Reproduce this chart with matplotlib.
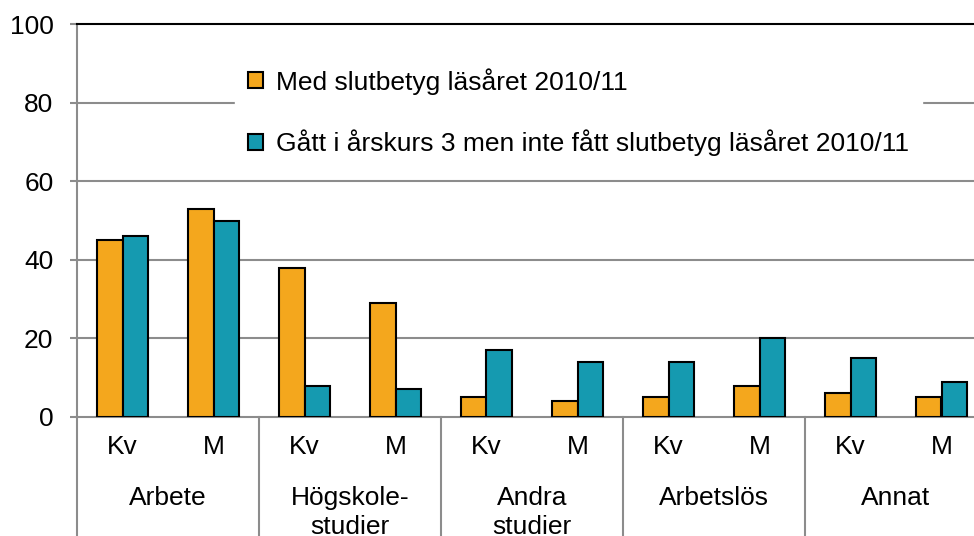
import matplotlib.pyplot as plt
from matplotlib.patches import Patch

plt.rcParams['font.family'] = ['Liberation Sans', 'DejaVu Sans']

groups = ['Arbete', 'Högskole-\nstudier', 'Andra\nstudier', 'Arbetslös', 'Annat']
sexes = ['Kv', 'M']
series_names = ['Med slutbetyg läsåret 2010/11',
                'Gått i årskurs 3 men inte fått slutbetyg läsåret 2010/11']
med_slutbetyg = [45, 53, 38, 29, 5, 4, 5, 8, 6, 5]
utan_slutbetyg = [46, 50, 8, 7, 17, 14, 14, 20, 15, 9]

orange = '#F4A71D'
teal = '#159AB0'
grid_col = '#8C8C8C'
fs = 19

fig = plt.figure(figsize=(9.74, 5.36), dpi=100)
ax = fig.add_axes([77 / 974, 119 / 536, 910 / 974, 393 / 536])

x = list(range(len(med_slutbetyg)))
w = 0.28
ax.bar([i - w / 2 for i in x], med_slutbetyg, w, color=orange,
       edgecolor='black', linewidth=1.5, zorder=3)
ax.bar([i + w / 2 for i in x], utan_slutbetyg, w, color=teal,
       edgecolor='black', linewidth=1.5, zorder=3)

ax.set_xlim(-0.5, len(x) - 0.5)
ax.set_ylim(0, 100)
ax.set_yticks(range(0, 101, 20))
ax.tick_params(axis='y', labelsize=fs, length=5, width=1.5, color=grid_col, pad=12)
ax.set_xticks([])
for v in range(20, 100, 20):
    ax.axhline(v, color=grid_col, lw=1.5, zorder=1)

ax.spines['right'].set_visible(False)
ax.spines['top'].set_color('black')
ax.spines['top'].set_linewidth(1.5)
ax.spines['bottom'].set_color(grid_col)
ax.spines['bottom'].set_linewidth(1.5)
ax.spines['left'].set_color(grid_col)
ax.spines['left'].set_linewidth(1.5)

# kategorier under axeln
tr = ax.get_xaxis_transform()
for i in x:
    ax.text(i, -0.076, sexes[i % 2], transform=tr, ha='center', va='center',
            fontsize=fs)
for g, name in enumerate(groups):
    ax.text(2 * g + 0.5, -0.176, name, transform=tr, ha='center', va='top',
            fontsize=fs, linespacing=1.25)
for g in range(len(groups) + 1):
    ax.plot([2 * g - 0.5, 2 * g - 0.5], [0, -0.35], transform=tr,
            color=grid_col, lw=1.5, clip_on=False)

handles = [Patch(facecolor=orange, edgecolor='black', linewidth=1.5),
           Patch(facecolor=teal, edgecolor='black', linewidth=1.5)]
leg = ax.legend(handles, series_names, loc='upper left',
                bbox_to_anchor=(0.1734, 0.9216), fontsize=fs, frameon=True,
                facecolor='white', edgecolor='white', framealpha=1,
                handlelength=0.55, handleheight=0.55, handletextpad=0.5,
                labelspacing=1.32, borderpad=0.5, borderaxespad=0, fancybox=False)
leg.set_zorder(5)

fig.savefig('out.png', dpi=100)
